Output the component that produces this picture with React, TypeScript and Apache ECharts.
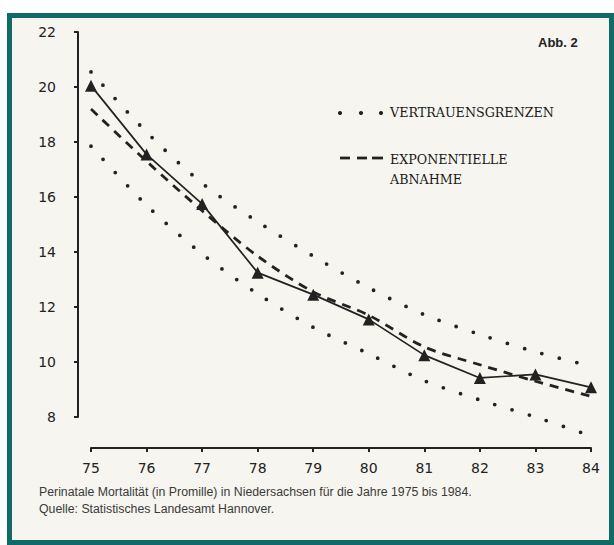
import React, { useEffect, useRef } from "react";
import * as echarts from "echarts";

const years = [75, 76, 77, 78, 79, 80, 81, 82, 83, 84];
const observed = [20.05, 17.55, 15.75, 13.25, 12.45, 11.55, 10.25, 9.42, 9.55, 9.08];
const trend = [19.2, 17.3, 15.5, 13.85, 12.55, 11.7, 10.55, 9.9, 9.3, 8.75];
const upperLimit = [20.55, 18.36, 16.5, 15.1, 13.85, 12.7, 11.72, 11.0, 10.37, 9.85];
const lowerLimit = [17.85, 15.7, 13.93, 12.48, 11.26, 10.3, 9.32, 8.62, 8.0, 7.31];
const yTicks = [8, 22, 2];
const legendLabels = ["VERTRAUENSGRENZEN", "EXPONENTIELLE", "ABNAHME"];
const figureLabel = "Abb. 2";
const captionLines = [
  "Perinatale Mortalität (in Promille) in Niedersachsen für die Jahre 1975 bis 1984.",
  "Quelle: Statistisches Landesamt Hannover.",
];

const ink = "#222222";
const pair = (vals: number[]) => years.map((y, i) => [y, vals[i]]);

export default function App() {
  const ref = useRef<HTMLDivElement>(null);
  useEffect(() => {
    if (!ref.current) return;
    const chart = echarts.init(ref.current, undefined, { renderer: "svg" });
    const legendFont = { fontFamily: "DejaVu Serif", fontSize: 12.7, fontWeight: "normal" as const };
    chart.setOption({
      animation: false,
      backgroundColor: "transparent",
      grid: { left: 91, right: 23, top: 32, height: 385 },
      xAxis: {
        type: "value",
        min: years[0],
        max: years[years.length - 1],
        interval: 1,
        offset: 31,
        axisLine: { show: true, lineStyle: { color: ink, width: 2 } },
        axisTick: { show: true, length: 4, lineStyle: { color: ink, width: 2 } },
        splitLine: { show: false },
        axisLabel: {
          color: ink,
          fontFamily: "DejaVu Sans",
          fontSize: 14,
          margin: 13,
        },
      },
      yAxis: {
        type: "value",
        min: yTicks[0],
        max: yTicks[1],
        interval: yTicks[2],
        offset: 13,
        axisLine: { show: true, lineStyle: { color: ink, width: 2 } },
        axisTick: { show: true, length: 4, lineStyle: { color: ink, width: 2 } },
        splitLine: { show: false },
        axisLabel: {
          color: ink,
          fontFamily: "DejaVu Sans",
          fontSize: 14,
          margin: 22,
        },
      },
      series: [
        {
          type: "line",
          name: "Vertrauensgrenze oben",
          data: pair(upperLimit),
          smooth: 0.3,
          clip: false,
          showSymbol: false,
          lineStyle: { color: ink, width: 3.8, type: [0, 18], cap: "round" },
        },
        {
          type: "line",
          name: "Vertrauensgrenze unten",
          data: pair(lowerLimit),
          smooth: 0.3,
          clip: false,
          showSymbol: false,
          lineStyle: { color: ink, width: 3.8, type: [0, 18], cap: "round" },
        },
        {
          type: "line",
          name: "Exponentielle Abnahme",
          data: pair(trend),
          smooth: 0.3,
          clip: false,
          showSymbol: false,
          lineStyle: { color: ink, width: 2.8, type: [9, 7] },
        },
        {
          type: "line",
          name: "Perinatale Mortalität",
          data: pair(observed),
          clip: false,
          symbol: "triangle",
          symbolSize: 12,
          itemStyle: { color: ink },
          lineStyle: { color: ink, width: 1.7 },
          z: 5,
        },
      ],
      graphic: [
        { type: "circle", shape: { cx: 340, cy: 113, r: 2.1 }, style: { fill: ink } },
        { type: "circle", shape: { cx: 361, cy: 113, r: 2.1 }, style: { fill: ink } },
        { type: "circle", shape: { cx: 381, cy: 113, r: 2.1 }, style: { fill: ink } },
        { type: "line", shape: { x1: 340, y1: 158, x2: 350, y2: 158 }, style: { stroke: ink, lineWidth: 2.8 } },
        { type: "line", shape: { x1: 357, y1: 158, x2: 367, y2: 158 }, style: { stroke: ink, lineWidth: 2.8 } },
        { type: "line", shape: { x1: 372, y1: 158, x2: 383, y2: 158 }, style: { stroke: ink, lineWidth: 2.8 } },
        { type: "text", x: 390, y: 112, style: { text: legendLabels[0], fill: "#1a1a1a", verticalAlign: "middle", ...legendFont } },
        { type: "text", x: 390, y: 159, style: { text: legendLabels[1], fill: "#1a1a1a", verticalAlign: "middle", ...legendFont } },
        { type: "text", x: 390, y: 179, style: { text: legendLabels[2], fill: "#1a1a1a", verticalAlign: "middle", ...legendFont } },
        {
          type: "text",
          x: 538,
          y: 42,
          style: { text: figureLabel, fill: ink, verticalAlign: "middle", fontFamily: "Liberation Sans", fontSize: 13, fontWeight: "bold" },
        },
        {
          type: "text",
          x: 39,
          y: 492,
          style: { text: captionLines[0], fill: "#3a3a3a", verticalAlign: "middle", fontFamily: "Liberation Sans", fontSize: 12.3 },
        },
        {
          type: "text",
          x: 39,
          y: 509,
          style: { text: captionLines[1], fill: "#3a3a3a", verticalAlign: "middle", fontFamily: "Liberation Sans", fontSize: 12.3 },
        },
      ],
    });
    return () => chart.dispose();
  }, []);

  return (
    <div style={{ position: "fixed", left: 0, top: 0, width: 614, height: 545, background: "#ffffff", overflow: "hidden" }}>
      <div
        style={{
          position: "absolute",
          left: 7,
          top: 13,
          width: 607,
          height: 532,
          boxSizing: "border-box",
          border: "5px solid #0f6a68",
          background: "#f6f5ef",
        }}
      />
      <div ref={ref} style={{ position: "absolute", left: 0, top: 0, width: 614, height: 545 }} />
    </div>
  );
}
